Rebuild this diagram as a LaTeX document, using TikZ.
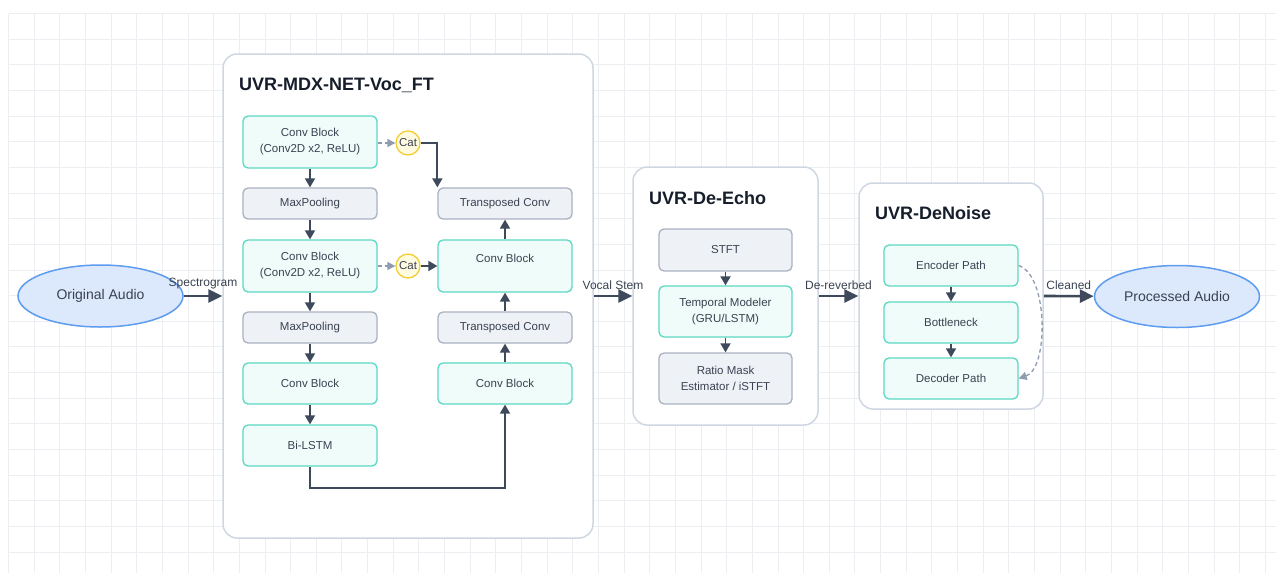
\documentclass[tikz,border=0pt]{standalone}
\usepackage{fontspec}
\setmainfont{Liberation Sans}
\usetikzlibrary{shapes.geometric, arrows.meta}

\definecolor{gridgray}{HTML}{ECEEF2}
\definecolor{contborder}{HTML}{CFD7E2}
\definecolor{tealborder}{HTML}{5DD8C3}
\definecolor{tealfill}{HTML}{EFFCFA}
\definecolor{grayborder}{HTML}{A9B2C1}
\definecolor{grayfill}{HTML}{EEF1F6}
\definecolor{catborder}{HTML}{F3CD35}
\definecolor{catfill}{HTML}{FFFBE1}
\definecolor{audioborder}{HTML}{5E9CEF}
\definecolor{audiofill}{HTML}{DCE8FB}
\definecolor{arrowcol}{HTML}{3E4A5C}
\definecolor{skipcol}{HTML}{8F9BAF}
\definecolor{boxtext}{HTML}{3A4252}
\definecolor{titletext}{HTML}{161D2B}

\tikzstyle{gridline} = [draw=gridgray, line width=1pt]
\tikzstyle{container} = [
    rectangle,
    rounded corners=14pt,
    line width=1.5pt,
    draw=contborder,
    fill=white
]
\tikzstyle{convbox} = [
    rectangle,
    rounded corners=5pt,
    minimum width=134pt,
    line width=1.3pt,
    draw=tealborder,
    fill=tealfill,
    text=boxtext,
    align=center,
    font=\fontsize{11.5}{16}\selectfont
]
\tikzstyle{opbox} = [
    rectangle,
    rounded corners=5pt,
    minimum width=134pt,
    line width=1.3pt,
    draw=grayborder,
    fill=grayfill,
    text=boxtext,
    align=center,
    font=\fontsize{11.5}{16}\selectfont
]
\tikzstyle{catnode} = [
    circle,
    minimum size=24pt,
    inner sep=0pt,
    line width=1.3pt,
    draw=catborder,
    fill=catfill,
    text=boxtext,
    font=\fontsize{11.5}{14}\selectfont
]
\tikzstyle{audio} = [
    ellipse,
    minimum width=165pt,
    minimum height=62pt,
    line width=1.5pt,
    draw=audioborder,
    fill=audiofill,
    text=boxtext,
    font=\fontsize{14}{16}\selectfont
]
\tikzstyle{boxtitle} = [
    anchor=base west,
    inner sep=0pt,
    text=titletext,
    font=\bfseries\fontsize{18}{20}\selectfont
]
\tikzstyle{edgelabel} = [text=boxtext, font=\fontsize{12}{14}\selectfont]
\tikzstyle{arrow} = [line width=1.8pt, draw=arrowcol, -{Triangle[length=9pt,width=10pt]}]
\tikzstyle{bigarrow} = [line width=2.6pt, draw=arrowcol, -{Triangle[length=14pt,width=13pt]}]
\tikzstyle{skiparrow} = [line width=1.3pt, draw=skipcol, dash pattern=on 4pt off 3pt,
    -{Triangle[length=8pt,width=8pt]}]

\begin{document}
\begin{tikzpicture}[x=1pt, y=-1pt]

\useasboundingbox (0,0) rectangle (1276,573);

% background grid
\foreach \i in {0,...,49}
    \draw[gridline] ({8.5+25.65*\i},13.5) -- ({8.5+25.65*\i},573);
\foreach \j in {0,...,21}
    \draw[gridline] (8.5,{13.5+25.65*\j}) -- (1276,{13.5+25.65*\j});

% inputs and outputs
\node (orig) [audio] at (100.5,296) {Original Audio};
\node (proc) [audio] at (1177,296.5) {Processed Audio};

% UVR-MDX-NET-Voc_FT
\node (mdx) [container, minimum width=370pt, minimum height=484pt] at (408,296) {};
\node (mdxtitle) [boxtitle] at (239,90.5) {UVR-MDX-NET-Voc\_FT};

\node (conva) [convbox, minimum height=52pt] at (310,142) {Conv Block\\(Conv2D x2, ReLU)};
\node (poola) [opbox, minimum height=31pt] at (310,203.5) {MaxPooling};
\node (convb) [convbox, minimum height=52pt] at (310,266) {Conv Block\\(Conv2D x2, ReLU)};
\node (poolb) [opbox, minimum height=31pt] at (310,327.5) {MaxPooling};
\node (convc) [convbox, minimum height=41pt] at (310,383.5) {Conv Block};
\node (lstm) [convbox, minimum height=41pt] at (310,445.5) {Bi-LSTM};

\node (upa) [opbox, minimum height=31pt] at (505,203.5) {Transposed Conv};
\node (convd) [convbox, minimum height=52pt] at (505,266) {Conv Block\\\mbox{}};
\node (upb) [opbox, minimum height=31pt] at (505,327.5) {Transposed Conv};
\node (conve) [convbox, minimum height=41pt] at (505,383.5) {Conv Block};

\node (cata) [catnode] at (408,143) {Cat};
\node (catb) [catnode] at (408,266) {Cat};

% UVR-De-Echo
\node (echo) [container, minimum width=185pt, minimum height=258pt] at (725.5,296) {};
\node (echotitle) [boxtitle] at (649,204.5) {UVR-De-Echo};

\node (stft) [opbox, minimum width=133pt, minimum height=42pt] at (725.5,250) {STFT};
\node (temporal) [convbox, minimum width=133pt, minimum height=51pt] at (725.5,311.5)
{Temporal Modeler\\(GRU/LSTM)};
\node (ratio) [opbox, minimum width=133pt, minimum height=51pt] at (725.5,378.5)
{Ratio Mask\\Estimator / iSTFT};

% UVR-DeNoise
\node (denoise) [container, minimum width=184pt, minimum height=226pt] at (951,296) {};
\node (denoisetitle) [boxtitle] at (875,219.5) {UVR-DeNoise};

\node (enc) [convbox, minimum height=41pt] at (951,265.5) {Encoder Path};
\node (bottle) [convbox, minimum height=41pt] at (951,322.5) {Bottleneck};
\node (dec) [convbox, minimum height=41pt] at (951,378.5) {Decoder Path};

% main flow
\draw [bigarrow] (orig) -- (mdx.west)
    node [edgelabel, above=2pt, midway] {Spectrogram};
\draw [bigarrow] (mdx.east) -- (echo.west)
    node [edgelabel, above=2pt, midway] {Vocal Stem};
\draw [bigarrow] (echo.east) -- (denoise.west)
    node [edgelabel, above=2pt, midway] {De-reverbed};
\draw [bigarrow] (denoise.east) -- (proc)
    node [edgelabel, above=2pt, midway] {Cleaned};

% encoder / decoder inside MDX
\draw [arrow] (conva) -- (poola);
\draw [arrow] (poola) -- (convb);
\draw [arrow] (convb) -- (poolb);
\draw [arrow] (poolb) -- (convc);
\draw [arrow] (convc) -- (lstm);
\draw [arrow] (lstm.south) -- ++(0,21) -| (conve.south);
\draw [arrow] (conve) -- (upb);
\draw [arrow] (upb) -- (convd);
\draw [arrow] (convd) -- (upa);
\draw [skiparrow] (conva.east |- cata) -- (cata);
\draw [skiparrow] (convb) -- (catb);
\draw [arrow] (cata) -| (upa.north west);
\draw [arrow] (catb) -- (convd);

% De-Echo
\draw [arrow] (stft) -- (temporal);
\draw [arrow] (temporal) -- (ratio);

% DeNoise
\draw [arrow] (enc) -- (bottle);
\draw [arrow] (bottle) -- (dec);
\draw [skiparrow] (enc.east) .. controls +(30,10) and +(30,-10) .. (dec.east);

\end{tikzpicture}
\end{document}
